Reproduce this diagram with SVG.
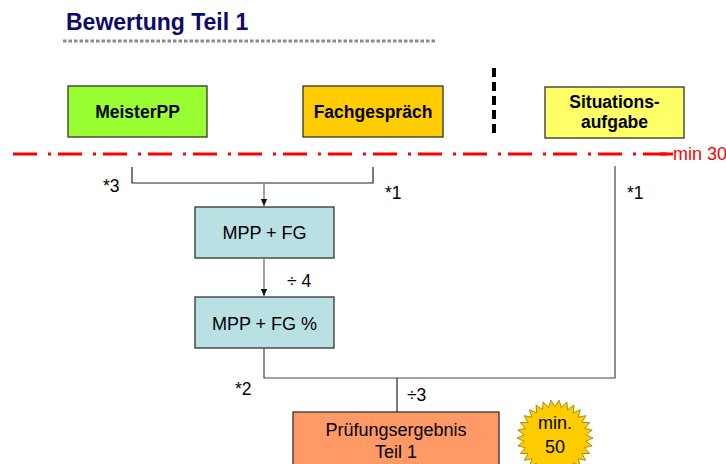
<svg xmlns="http://www.w3.org/2000/svg" width="726" height="464" viewBox="0 0 726 464">
<style>
text{font-family:"Liberation Sans",Arial,sans-serif;fill:#000}
.b{font-weight:bold;font-size:17.5px}
.n{font-size:18px}
.s{font-size:17.5px}
.box{stroke:#333;stroke-width:1.3}
.c{fill:none;stroke:#222;stroke-width:1.2}
.g{fill:none;stroke:#888;stroke-width:1.6}
</style>
<defs>
<marker id="ah" markerWidth="8" markerHeight="8" refX="7" refY="4" orient="auto" markerUnits="userSpaceOnUse">
<path d="M0,0.8 L7,4 L0,7.2 Z" fill="#111"/>
</marker>
</defs>
<rect width="726" height="464" fill="#fff"/>
<g id="title">
<text x="66" y="30" style="font-weight:bold;font-size:23px;fill:#0b0b6b">Bewertung Teil 1</text>
<line x1="63" y1="41" x2="437" y2="41" stroke="#8a8a8a" stroke-width="3" stroke-dasharray="3.5 2"/>
</g>
<g id="separator">
<line x1="494" y1="68" x2="494" y2="138" stroke="#000" stroke-width="4" stroke-dasharray="9 5"/>
</g>
<g id="minline">
<path d="M13,154 H673" stroke="#ff0000" stroke-width="3" stroke-dasharray="24 11 3 7"/>
<path d="M660,154 H673" stroke="#ff0000" stroke-width="3"/>
<text x="673" y="160" style="font-size:18px;fill:#ff0000">min 30</text>
</g>
<g id="meisterpp">
<rect class="box" x="68" y="86" width="139" height="51" fill="#99ff33"/>
<text x="137.5" y="118" class="b" text-anchor="middle">MeisterPP</text>
</g>
<g id="fachgespraech">
<rect class="box" x="303" y="86" width="140" height="51" fill="#ffcc00"/>
<text x="373" y="118" class="b" text-anchor="middle">Fachgespräch</text>
</g>
<g id="situationsaufgabe">
<rect class="box" x="545" y="87" width="139" height="51" fill="#ffff66"/>
<text x="614.5" y="108" class="b" text-anchor="middle">Situations-</text>
<text x="614.5" y="128" class="b" text-anchor="middle">aufgabe</text>
</g>
<g id="mppfg">
<rect class="box" x="195" y="207" width="139" height="51" fill="#b9e0e3"/>
<text x="264.5" y="239" class="n" text-anchor="middle">MPP + FG</text>
</g>
<g id="mppfgpct">
<rect class="box" x="195" y="297" width="139" height="51" fill="#b9e0e3"/>
<text x="264.5" y="330" class="n" text-anchor="middle">MPP + FG %</text>
</g>
<g id="ergebnis">
<rect class="box" x="293" y="412" width="206" height="60" fill="#ff9966"/>
<text x="396" y="436" class="n" text-anchor="middle">Prüfungsergebnis</text>
<text x="396" y="458" class="n" text-anchor="middle">Teil 1</text>
</g>
<g id="min50">
<polygon transform="translate(555 438)" fill="#ffcc00" stroke="#a89000" stroke-width="1" points="38,0 30.83,3.24 37.17,7.90 29.48,9.58 34.71,15.46 26.85,15.5 30.74,22.34 23.04,20.74 25.43,28.24 18.22,25.08 19,32.91 12.61,28.32 11.74,36.14 6.45,30.32 3.97,37.79 0,31 -3.97,37.79 -6.45,30.32 -11.74,36.14 -12.61,28.32 -19,32.91 -18.22,25.08 -25.43,28.24 -23.04,20.74 -30.74,22.34 -26.85,15.5 -34.71,15.46 -29.48,9.58 -37.17,7.90 -30.83,3.24 -38,0 -30.83,-3.24 -37.17,-7.90 -29.48,-9.58 -34.71,-15.46 -26.85,-15.5 -30.74,-22.34 -23.04,-20.74 -25.43,-28.24 -18.22,-25.08 -19,-32.91 -12.61,-28.32 -11.74,-36.14 -6.45,-30.32 -3.97,-37.79 0,-31 3.97,-37.79 6.45,-30.32 11.74,-36.14 12.61,-28.32 19,-32.91 18.22,-25.08 25.43,-28.24 23.04,-20.74 30.74,-22.34 26.85,-15.5 34.71,-15.46 29.48,-9.58 37.17,-7.90 30.83,-3.24"/>
<text x="555" y="429" class="n" text-anchor="middle">min.</text>
<text x="555" y="453" class="n" text-anchor="middle">50</text>
</g>
<g id="connectors">
<polyline class="c" points="132,167 132,183 373,183 373,167"/>
<line class="g" x1="264" y1="183" x2="264" y2="206" marker-end="url(#ah)"/>
<line class="g" x1="264" y1="258" x2="264" y2="296" marker-end="url(#ah)"/>
<polyline class="c" style="stroke:#444" points="264,348 264,378 615,378 615,166"/>
<line class="c" x1="397" y1="378" x2="397" y2="412"/>
<text x="103" y="192" class="s">*3</text>
<text x="385" y="199" class="s">*1</text>
<text x="627" y="199" class="s">*1</text>
<text x="287" y="287" class="s">÷ 4</text>
<text x="235" y="395" class="s">*2</text>
<text x="407" y="401" class="s">÷3</text>
</g>
</svg>
